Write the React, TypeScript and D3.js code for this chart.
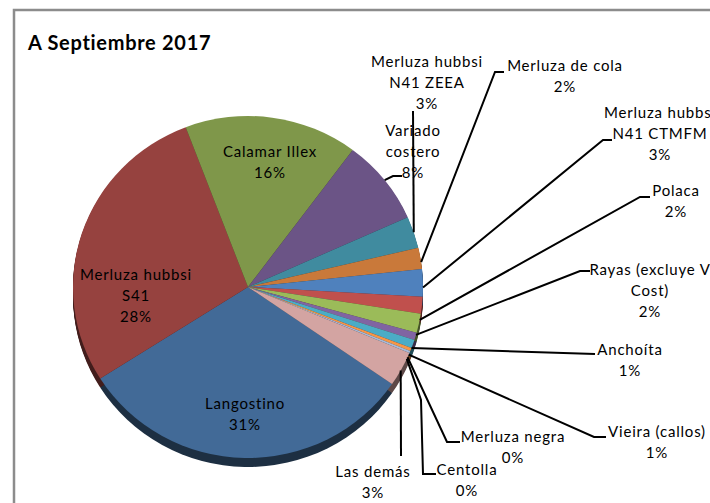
import React from "react";
import * as d3 from "d3";

const categories = [
  "Langostino",
  "Merluza hubbsi S41",
  "Calamar Illex",
  "Variado costero",
  "Merluza hubbsi N41 ZEEA",
  "Merluza de cola",
  "Merluza hubbsi N41 CTMFM",
  "Polaca",
  "Rayas (excluye V Cost)",
  "Anchoíta",
  "Vieira (callos)",
  "Merluza negra",
  "Centolla",
  "Las demás",
];
const values = [31.4, 28.2, 16.0, 8.1, 3.0, 2.0, 2.6, 1.6, 1.8, 0.7, 0.8, 0.3, 0.2, 3.3];
const colors = [
  "#426A97", "#96423F", "#7F974A", "#6B5486", "#408B9F", "#C9793A", "#4F81BD",
  "#C0504D", "#9BBB59", "#8064A2", "#4BACC6", "#F79646", "#AAB9D8", "#D3A4A2",
];
const title = "A Septiembre 2017";

// label layout: wrapped lines, center x, first baseline y, leader points (label side), anchor shift (deg)
type Lay = { lines: string[]; x: number; y: number; leader?: [number, number][]; shift?: number };
const layout: Lay[] = [
  { lines: ["Langostino"], x: 245, y: 409 },
  { lines: ["Merluza hubbsi", "S41"], x: 136, y: 280 },
  { lines: ["Calamar Illex"], x: 270, y: 157 },
  { lines: ["Variado", "costero"], x: 413, y: 136, leader: [[402, 176], [393, 176]], shift: 0 },
  { lines: ["Merluza hubbsi", "N41 ZEEA"], x: 427, y: 67, leader: [[413, 111]], shift: 0 },
  { lines: ["Merluza de cola"], x: 565, y: 71, leader: [[504, 72], [495, 72]], shift: 1.3 },
  { lines: ["Merluza hubbsi", "N41 CTMFM"], x: 660, y: 118, leader: [[612, 140], [603, 140]], shift: 1.6 },
  { lines: ["Polaca"], x: 676, y: 196, leader: [[650, 197], [640, 197]], shift: 4.9 },
  { lines: ["Rayas (excluye V", "Cost)"], x: 650, y: 275, leader: [[590, 271], [580, 271]], shift: 4 },
  { lines: ["Anchoíta"], x: 630, y: 355, leader: [[595, 354]], shift: 4.1 },
  { lines: ["Vieira (callos)"], x: 657, y: 437, leader: [[606, 437], [594, 437]], shift: 3.8 },
  { lines: ["Merluza negra"], x: 513, y: 442, leader: [[460, 442], [447, 442]], shift: 2.8 },
  { lines: ["Centolla"], x: 467, y: 475, leader: [[436, 474], [423, 474], [421, 400]], shift: 2.5 },
  { lines: ["Las demás"], x: 373, y: 477, leader: [[401, 456]], shift: 0.6 },
];

const W = 710, H = 503;
const cx = 248, cy = 287, rx = 175, ry = 171, depth = 9;
const startDeg = 124.6;
const lineH = 21;
const font = "Lato, 'Open Sans', sans-serif";

export default function App() {
  const total = d3.sum(values);
  const pct = d3.format(".0%");
  const start = (startDeg * Math.PI) / 180;
  const pie = d3.pie<number>().sort(null).value((d) => d).startAngle(start).endAngle(start + 2 * Math.PI);
  const arcs = pie(values);
  const arc = d3.arc<d3.PieArcDatum<number>>().innerRadius(0).outerRadius(rx);
  const sy = ry / rx;
  const steps = d3.range(1, depth + 1);

  const edge = (a: number): [number, number] => [cx + rx * Math.sin(a), cy - ry * Math.cos(a)];

  return (
    <svg width={W} height={H} style={{ position: "absolute", left: 0, top: 0, background: "#fff" }}>
      <rect x={0} y={0} width={W} height={H} fill="#fff" />
      <path d={`M14,${H + 5} L14,10 L${W + 5},10`} fill="none" stroke="#8c8c8c" strokeWidth={2.5} />
      <text x={28} y={50} fontFamily={font} fontWeight="bold" fontSize={20} letterSpacing={0.7} fill="#000">{title}</text>
      {steps.map((s) => (
        <g key={"s" + s} transform={`translate(${cx},${cy + s}) scale(1,${sy})`}>
          {arcs.map((a, i) => (
            <path key={i} d={arc(a) || ""} fill={d3.color(colors[i])!.darker(2.3).formatHex()} />
          ))}
        </g>
      ))}
      <g transform={`translate(${cx},${cy}) scale(1,${sy})`}>
        {arcs.map((a, i) => (
          <path key={i} d={arc(a) || ""} fill={colors[i]} />
        ))}
      </g>
      {arcs.map((a, i) => {
        const L = layout[i];
        const lines = [...L.lines, pct(values[i] / total)];
        return (
          <text key={"t" + i} x={L.x} y={L.y} textAnchor="middle" fontFamily={font} fontSize={15} letterSpacing={0.8} fill="#000">
            {lines.map((ln, j) => (
              <tspan key={j} x={L.x} y={L.y + j * lineH}>{ln}</tspan>
            ))}
          </text>
        );
      })}
      {arcs.map((a, i) => {
        const L = layout[i];
        if (!L.leader) return null;
        const mid = (a.startAngle + a.endAngle) / 2 + ((L.shift || 0) * Math.PI) / 180;
        const pts: [number, number][] = [...L.leader, edge(mid)];
        return <path key={"l" + i} d={d3.line()(pts) || ""} fill="none" stroke="#000" strokeWidth={2} />;
      })}
    </svg>
  );
}
